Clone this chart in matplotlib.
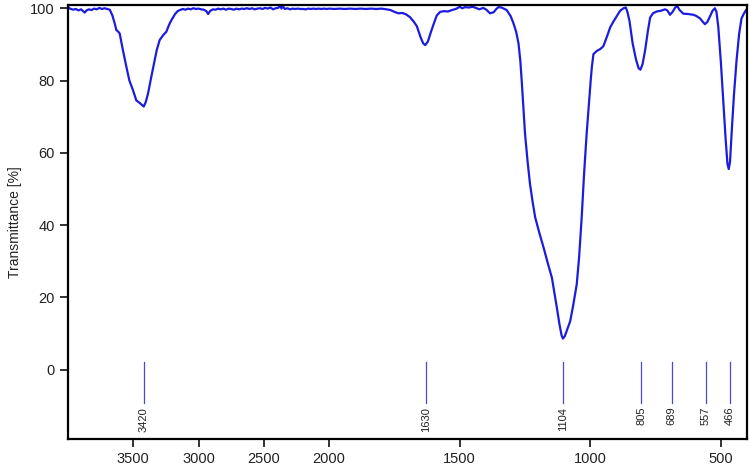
import numpy as np
import matplotlib
matplotlib.use("Agg")
import matplotlib.pyplot as plt

wavenumber = [4000, 3985, 3960, 3940, 3920, 3900, 3885, 3872, 3858, 3840, 3820, 3800, 3780, 3760, 3740, 3720, 3700, 3680,
              3660, 3640, 3630, 3615, 3604, 3580, 3553, 3530, 3502, 3477, 3451, 3435, 3420, 3405, 3387, 3365, 3341, 3320,
              3298, 3270, 3247, 3225, 3208, 3180, 3160, 3144, 3120, 3100, 3080, 3060, 3040, 3020, 3000, 2980, 2960, 2940,
              2927, 2910, 2890, 2870, 2850, 2830, 2810, 2790, 2770, 2750, 2730, 2710, 2690, 2670, 2650, 2630, 2610, 2590,
              2570, 2550, 2530, 2510, 2490, 2470, 2450, 2430, 2410, 2390, 2375, 2365, 2355, 2340, 2320, 2300, 2280, 2260,
              2240, 2220, 2200, 2180, 2160, 2140, 2120, 2100, 2080, 2060, 2040, 2020, 2000, 1980, 1960, 1940, 1920, 1900,
              1880, 1860, 1840, 1820, 1800, 1780, 1765, 1750, 1735, 1720, 1705, 1690, 1675, 1664, 1650, 1640, 1632, 1622,
              1610, 1600, 1588, 1575, 1560, 1545, 1530, 1515, 1500, 1490, 1480, 1465, 1450, 1435, 1425, 1410, 1398, 1384,
              1370, 1360, 1352, 1340, 1320, 1305, 1294, 1284, 1275, 1268, 1262, 1256, 1250, 1240, 1231, 1220, 1211, 1195,
              1179, 1163, 1147, 1138, 1128, 1118, 1110, 1105, 1098, 1090, 1077, 1065, 1052, 1043, 1033, 1024, 1014, 1005,
              998, 994, 988, 975, 962, 950, 937, 924, 910, 899, 886, 873, 864, 858, 850, 838, 825, 815, 808, 800, 790, 780,
              771, 760, 746, 730, 714, 705, 695, 685, 675, 667, 658, 644, 625, 606, 595, 580, 570, 561, 552, 542, 532, 523,
              517, 510, 500, 491, 482, 475, 470, 465, 459, 450, 440, 430, 421, 412, 404, 400]
transmittance = [100.4, 99.9, 99.6, 99.8, 99.4, 99.7, 99.2, 98.8, 99.4, 99.7, 99.5, 99.9, 99.7, 100.1, 99.8, 100.0, 99.8, 99.6,
                 98.0, 95.5, 94.0, 93.5, 93.0, 88.5, 83.8, 80.0, 77.3, 74.5, 73.8, 73.3, 72.8, 74.0, 76.4, 80.5, 84.7, 88.5,
                 91.2, 92.6, 93.5, 95.5, 96.7, 98.4, 99.2, 99.5, 99.8, 99.6, 99.9, 99.7, 100.0, 99.8, 99.9, 99.7, 99.6, 99.2,
                 98.4, 99.3, 99.7, 99.6, 99.9, 99.7, 99.9, 99.6, 99.9, 99.8, 99.6, 99.9, 99.7, 99.9, 99.8, 100.0, 99.8, 100.0,
                 99.7, 99.9, 100.0, 99.8, 100.1, 99.9, 100.2, 99.7, 100.0, 100.1, 100.8, 99.9, 100.6, 99.8, 100.0, 99.7, 99.9, 99.8,
                 99.9, 99.8, 99.8, 99.7, 99.9, 99.8, 99.9, 99.8, 99.9, 99.8, 99.9, 99.8, 99.9, 99.8, 99.9, 99.8, 99.9, 99.8,
                 99.9, 99.8, 99.9, 99.8, 99.9, 99.7, 99.5, 99.0, 98.6, 98.7, 98.3, 97.5, 96.2, 95.0, 92.0, 90.3, 89.8, 90.8,
                 93.5, 95.6, 98.0, 99.0, 99.2, 99.1, 99.5, 99.8, 100.4, 100.0, 100.3, 100.2, 100.4, 100.0, 99.7, 100.1, 99.6, 98.6,
                 98.9, 99.8, 100.3, 100.2, 99.5, 97.8, 95.8, 93.5, 90.3, 85.5, 79.2, 72.0, 65.3, 57.5, 51.4, 46.0, 42.1, 37.8,
                 33.8, 29.5, 25.4, 21.5, 17.1, 12.5, 9.5, 8.6, 9.2, 10.8, 13.4, 18.0, 23.6, 31.0, 42.1, 54.0, 65.3, 74.0,
                 80.5, 83.8, 87.3, 88.2, 88.7, 89.5, 92.0, 94.7, 96.5, 97.8, 99.3, 100.0, 100.2, 99.0, 96.5, 90.3, 85.8, 83.4, 83.0, 84.5, 88.4, 93.5,
                 97.4, 98.6, 99.1, 99.3, 99.7, 99.4, 98.2, 99.0, 100.2, 100.6, 99.5, 98.5, 98.4, 98.2, 97.9, 97.2, 96.3, 95.6, 96.2, 97.7, 99.3, 100.0,
                 99.0, 94.9, 85.0, 74.5, 64.0, 57.0, 55.5, 57.5, 65.3, 76.0, 85.6, 93.0, 97.2, 98.5, 99.5, 99.8]
peak_positions = [3420, 1630, 1104, 805, 689, 557, 466]
peak_labels = ["3420", "1630", "1104", "805", "689", "557", "466"]
x_ticks = [3500, 3000, 2500, 2000, 1500, 1000, 500]
y_ticks = [0, 20, 40, 60, 80, 100]

plt.rcParams['font.family'] = ['Liberation Sans', 'DejaVu Sans']


def forward(x):
    x = np.asarray(x, dtype=float)
    return np.where(x <= 2000, x, 2000 + (x - 2000) / 2.0)


def inverse(u):
    u = np.asarray(u, dtype=float)
    return np.where(u <= 2000, u, 2000 + 2.0 * (u - 2000))


fig = plt.figure(figsize=(7.5, 4.71), dpi=100)
ax = fig.add_axes([68 / 750, 1 - 439 / 471, (747 - 68) / 750, (439 - 5) / 471])
ax.set_xscale('function', functions=(forward, inverse))

ax.plot(wavenumber, transmittance, color='#1c1ce0', lw=1.6, solid_joinstyle='round')

for pos, lab in zip(peak_positions, peak_labels):
    ax.plot([pos, pos], [-9.2, 2.0], color='#4a4ad8', lw=0.9)
    ax.text(pos, -10.3, lab, rotation=90, ha='center', va='top', fontsize=8, color='#222222')

ax.set_xlim(4000, 400)
ax.set_ylim(-19.2, 100.9)
ax.set_xticks(x_ticks)
ax.set_xticklabels([str(t) for t in x_ticks])
ax.set_yticks(y_ticks)
ax.xaxis.set_minor_locator(matplotlib.ticker.NullLocator())
ax.tick_params(axis='both', direction='out', length=5.5, width=1.3, labelsize=10.5, colors='#222222', pad=4)
ax.tick_params(top=False, right=False)
for s in ax.spines.values():
    s.set_linewidth(1.6)
    s.set_color('black')
ax.set_ylabel('Transmittance [%]', fontsize=10, color='#222222', labelpad=6)

fig.savefig('out.png', dpi=100)
